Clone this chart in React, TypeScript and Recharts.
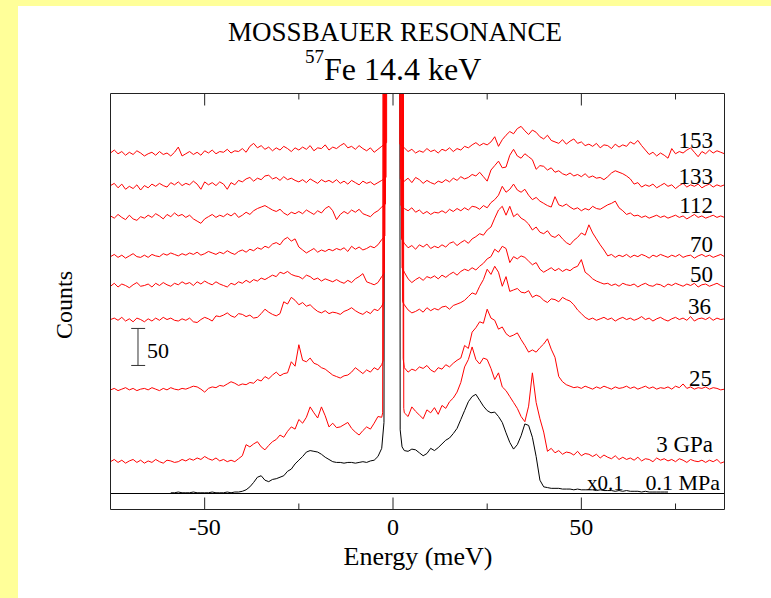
import React from 'react';
import { LineChart, Line, XAxis, YAxis, ReferenceLine } from 'recharts';

const SERIF = "'Liberation Serif', 'Times New Roman', Times, serif";

// Energy channels (meV) on either side of the elastic line
const ENERGY_LEFT = [
  -75, -74, -73, -72, -71, -70, -69, -68, -67, -66,
  -65, -64, -63, -62, -61, -60, -59, -58, -57, -56,
  -55, -54, -53, -52, -51, -50, -49, -48, -47, -46,
  -45, -44, -43, -42, -41, -40, -39, -38, -37, -36,
  -35, -34, -33, -32, -31, -30, -29, -28, -27, -26,
  -25, -24, -23, -22, -21, -20, -19, -18, -17, -16,
  -15, -14, -13, -12, -11, -10, -9, -8, -7, -6,
  -5, -4, -3,
];
const ENERGY_RIGHT = [
  3, 4, 5, 6, 7, 8, 9, 10, 11, 12,
  13, 14, 15, 16, 17, 18, 19, 20, 21, 22,
  23, 24, 25, 26, 27, 28, 29, 30, 31, 32,
  33, 34, 35, 36, 37, 38, 39, 40, 41, 42,
  43, 44, 45, 46, 47, 48, 49, 50, 51, 52,
  53, 54, 55, 56, 57, 58, 59, 60, 61, 62,
  63, 64, 65, 66, 67, 68, 69, 70, 71, 72,
  73, 74, 75, 76, 77, 78, 79, 80, 81, 82,
  83, 84, 85, 86, 87, 88,
];

// Pressure labels, top to bottom
const PRESSURE_LABELS = ['153', '133', '112', '70', '50', '36', '25', '3 GPa'];
// Vertical display offsets (counts) of each stacked spectrum
const OFFSETS = [458, 415, 373, 320, 281, 235, 140, 43];

// Counts above each spectrum's own baseline
const P153_LEFT = [
  2, 6, 1, 4, -1, 3, 0, 5, 2, -2,
  1, 3, -1, 4, 0, 2, -2, 3, 10, -2,
  1, 4, 0, 3, -1, 5, 2, 6, 1, 4,
  3, 7, 2, 5, 4, 8, 3, 11, 15, 9,
  12, 7, 10, 5, 9, 6, 11, 8, 4, 9,
  6, 10, 7, 12, 5, 9, 8, 13, 6, 10,
  8, 12, 15, 9, 11, 7, 12, 8, 5, 9,
  3, 7, 11,
];
const P153_RIGHT = [
  9, 4, 7, 2, 5, 3, 8, 4, 6, 2,
  7, 5, 9, 4, 8, 6, 11, 9, 13, 16,
  12, 15, 13, 17, 24, 11, 20, 26, 31, 28,
  35, 38, 32, 27, 33, 30, 24, 21, 26, 19,
  17, 15, 20, 14, 18, 21, 15, 17, 12, 14,
  11, 15, 9, 13, 12, 8, 14, 10, 13, 11,
  17, 14, 19, 12, 6, 0, 3, -2, 2, -1,
  -5, 8, 1, 4, 2, 6, 9, 3, -3, 4,
  1, 6, 2, 5, 3, 1,
];
const P133_LEFT = [
  1, 4, -2, 3, -4, 0, -3, 2, -5, 1,
  -2, 3, 0, 4, 1, -1, 5, 2, 6, 1,
  4, 2, 7, 3, -4, 6, 2, 5, 1, 6,
  3, -4, 5, 2, 8, 6, 10, 12, 7, 11,
  9, 14, 15, 10, 12, 8, 13, 9, 11, 8,
  6, 9, 5, 10, 7, 4, 9, 6, 8, 5,
  9, 4, 7, 3, 8, 5, 2, 7, 4, 6,
  2, 5, 8,
];
const P133_RIGHT = [
  7, 11, 5, 12, 9, 4, 8, 5, 3, 7,
  5, 9, 6, 11, 8, 13, 10, 12, 16, 14,
  19, 13, 7, 22, 28, 34, 25, 26, 42, 50,
  41, 38, 44, 40, 36, 23, 28, 27, 22, 25,
  19, 21, 17, 15, 18, 14, 16, 13, 17, 12,
  14, 11, 12, 9, 13, 18, 21, 19, 17, 14,
  10, 3, 5, -1, 2, 0, 3, -2, 1, 4,
  0, 2, -3, 1, 4, -1, 2, 0, 3, -2,
  1, 3, -1, 2, 0, 2,
];
const P112_LEFT = [
  2, -1, 4, 0, -3, 3, -2, -4, 1, -1,
  3, 0, 5, 2, -2, 4, 1, 6, 2, 4,
  0, 3, -2, -5, -8, -2, 1, 4, 0, 3,
  1, 5, 2, 6, 0, 3, 7, 4, 9, 12,
  14, 16, 13, 10, 8, 11, 6, 3, 7, 5,
  8, 5, 10, 7, 4, 9, 6, 12, 15, 9,
  -3, 4, 8, 5, 10, 7, 11, 5, 3, 1,
  6, 9, 14,
];
const P112_RIGHT = [
  12, 9, 13, 7, 10, 5, 8, 4, 7, 6,
  9, 6, 11, 8, 12, 9, 13, 10, 15, 14,
  11, 16, 13, 20, 24, 30, 42, 34, 38, 45,
  37, 34, 38, 30, 24, 27, 22, 19, 16, 14,
  28, 17, 15, 18, 14, 11, 13, 9, 12, 10,
  15, 12, 11, 14, 17, 19, 22, 13, 9, 4,
  6, 2, 3, 0, 2, -1, 1, 3, 0, 2,
  -1, 1, 3, 0, 2, -2, 1, 4, 0, 2,
  -1, 1, 3, 0, 2, 0,
];
const P70_LEFT = [
  0, 3, -1, 2, -2, 1, 4, 0, -1, 2,
  -1, 3, 1, 0, 4, 2, 5, 3, 1, 4,
  2, 5, 3, 6, 2, 4, 7, 5, 3, 6,
  4, 8, 5, 3, 7, 9, 6, 10, 8, 12,
  10, 14, 12, 17, 19, 16, 23, 26, 21, 24,
  13, 9, 5, 8, 11, 6, 9, 7, 10, 8,
  11, 9, 12, 7, 14, 10, 13, 9, 11, 14,
  12, 16, 23,
];
const P70_RIGHT = [
  18, 12, 15, 10, 16, 13, 17, 11, 14, 12,
  16, 13, 18, 20, 15, 19, 22, 18, 24, 27,
  31, 29, 36, 40, 52, 63, 68, 56, 68, 54,
  58, 52, 49, 44, 36, 40, 33, 31, 35, 28,
  26, 30, 24, 19, 16, 22, 26, 32, 29, 43,
  32, 24, 16, 9, 1, 3, -1, 2, 0, 3,
  -1, 2, 0, 3, 1, -2, 2, 0, 3, 1,
  -1, 2, 0, 3, -1, 1, 2, -2, 1, 3,
  0, 2, -1, 1, 3, 0,
];
const P50_LEFT = [
  -1, 3, -2, 2, 0, -3, 1, 4, -1, 0,
  2, -2, 3, 0, 4, 1, -1, 3, 1, 5,
  2, 4, 0, 5, 2, 6, 3, 1, 5, 2,
  0, -2, 3, 1, 5, 3, 7, 4, 8, 6,
  10, 8, 11, 14, 12, 18, 16, 19, 15, 13,
  12, 9, 14, 12, 8, 10, 6, 9, 7, 5,
  8, 5, 3, 7, 4, 9, 12, 16, 5, 3,
  1, 4, 12,
];
const P50_RIGHT = [
  18, 9, 4, 8, 11, 7, 12, 10, 13, 9,
  14, 11, 15, 18, 14, 19, 22, 20, 24, 21,
  26, 30, 36, 39, 49, 45, 53, 50, 31, 39,
  36, 40, 38, 33, 28, 31, 22, 18, 21, 24,
  20, 23, 19, 22, 20, 24, 26, 35, 18, 14,
  9, 6, 4, 2, 3, 0, 2, -1, 3, 1,
  0, 2, -2, 1, 3, 0, -1, 2, 1, -2,
  2, 0, 3, 1, -1, 2, 0, 3, -2, 1,
  2, -1, 1, 3, 0, -2,
];
const P36_LEFT = [
  0, 2, -1, 3, -2, 1, -3, 2, 0, -3,
  1, -2, 2, -1, 3, 0, 2, -1, -2, 1,
  -1, 2, -3, -4, 0, 3, 1, -2, 5, 4,
  6, 9, 5, 3, 8, 7, 4, 6, 2, 3,
  8, 14, 10, 7, 5, 8, 24, 21, 30, 26,
  20, 23, 18, 20, 15, 11, 9, 12, 8, 10,
  9, 7, 11, 13, 16, 12, 9, 7, 11, 8,
  14, 12, 18,
];
const P36_RIGHT = [
  20, 13, 9, 11, 14, 10, 16, 12, 15, 13,
  17, 18, 14, 19, 21, 23, 26, 31, 36, 34,
  45, 54, 68, 61, 72, 64, 45, 58, 38, 40,
  42, 37, 36, 39, 30, 33, 31, 26, 23, 28,
  27, 24, 30, 27, 25, 20, 13, 8, 3, 0,
  2, -1, 1, 3, 0, 2, -2, 1, 3, 0,
  2, -1, 1, 4, 0, 2, -2, 1, 3, 0,
  -2, 1, 3, 0, 2, -1, 4, -2, 1, 2,
  0, 3, -1, 2, 0, 1,
];
const P25_LEFT = [
  0, 2, -1, 1, 3, 0, 2, -1, 1, 2,
  0, 3, 1, -1, 2, 0, 3, 1, 0, 2,
  1, 3, 5, 4, 1, -3, 2, 4, 3, 6,
  5, 8, 11, 9, 6, 8, 7, 10, 9, 14,
  12, 18, 15, 20, 24, 19, 22, 23, 38, 32,
  61, 40, 38, 43, 36, 34, 30, 28, 24, 20,
  18, 16, 19, 20, 24, 30, 26, 22, 27, 24,
  30, 27, 34,
];
const P25_RIGHT = [
  30, 24, 28, 26, 31, 29, 33, 27, 24, 30,
  28, 34, 31, 36, 40, 43, 60, 56, 78, 84,
  92, 90, 109, 97, 94, 82, 85, 76, 72, 74,
  77, 68, 60, 51, 54, 51, 57, 62, 69, 55,
  44, 18, 11, 7, 5, 3, 4, 2, 5, 3,
  1, 4, 2, 5, 3, 1, 4, 2, 3, 5,
  2, 4, 1, 3, 5, 2, 4, 1, 3, 2,
  4, 1, 5, 3, 8, 2, 4, 1, 3, 2,
  4, 1, 3, 2, 0, 1,
];
const P3_LEFT = [
  0, 3, -1, 2, -2, 1, 3, -1, 2, -2,
  1, -1, 3, 0, -2, 2, 1, -1, 0, 3,
  1, 4, 2, 5, 3, 7, 4, 2, 5, 1,
  3, 0, 2, 0, 4, 8, 23, 20, 24, 27,
  20, 16, 22, 27, 30, 36, 33, 41, 47, 44,
  57, 52, 60, 74, 66, 59, 74, 62, 47, 52,
  46, 47, 50, 53, 45, 40, 36, 42, 47, 44,
  52, 61, 60,
];
const P3_RIGHT = [
  66, 61, 74, 68, 63, 58, 70, 66, 73, 64,
  76, 72, 81, 86, 94, 107, 128, 138, 155, 138,
  132, 140, 138, 126, 111, 120, 101, 96, 88, 80,
  72, 61, 54, 75, 120, 80, 58, 40, 14, 18,
  12, 15, 10, 13, 12, 9, 14, 8, 11, 10,
  7, 10, 5, 9, 6, 4, 8, 3, 6, 3,
  5, 2, 6, 1, 4, 3, 0, 5, 2, 4,
  1, 3, 0, 4, 2, -1, 3, 1, 0, 2,
  -1, 2, 0, 3, -2, 0,
];

// Ambient-pressure spectrum (shown x0.1), no counts recorded outside -59..73 meV
const AMBIENT_LEFT = [
  null, null, null, null, null, null, null, null, null, null,
  null, null, null, null, null, null, 1, 1, 2, 1,
  1, 1, 2, 1, 1, 1, 1, 2, 1, 1,
  1, 2, 1, 2, 2, 3, 5, 9, 15, 22,
  24, 18, 16, 19, 20, 22, 24, 30, 33, 40,
  45, 50, 56, 58, 57, 56, 53, 49, 46, 43,
  42, 42, 41, 42, 42, 41, 42, 43, 42, 44,
  45, 50, 61,
];
const AMBIENT_RIGHT = [
  58, 57, 60, 59, 55, 51, 54, 61, 58, 62,
  67, 72, 75, 81, 88, 100, 112, 124, 131, 134,
  126, 118, 112, 109, 110, 104, 96, 82, 69, 60,
  66, 78, 94, 92, 76, 50, 18, 9, 8, 7,
  7, 7, 6, 6, 6, 5, 6, 5, 5, 5,
  5, 4, 5, 4, 4, 4, 3, 4, 3, 4,
  3, 3, 3, 2, 3, 2, 2, 2, 2, 2,
  2, null, null, null, null, null, null, null, null, null,
  null, null, null, null, null, null,
];

// Elastic line flanks [energy, counts]; the peak runs far off scale
const ELASTIC_153: [number, number][] = [[-1.7, 16], [-1.2, 3000], [1.3, 3000], [1.8, 14]];
const ELASTIC_133: [number, number][] = [[-1.85, 12], [-1.35, 3000], [1.45, 3000], [1.95, 10]];
const ELASTIC_112: [number, number][] = [[-2.0, 18], [-1.5, 3000], [1.6, 3000], [2.1, 16]];
const ELASTIC_70: [number, number][] = [[-2.15, 28], [-1.65, 3000], [1.75, 3000], [2.25, 24]];
const ELASTIC_50: [number, number][] = [[-2.3, 17], [-1.8, 3000], [1.9, 3000], [2.4, 24]];
const ELASTIC_36: [number, number][] = [[-2.45, 24], [-1.95, 3000], [2.05, 3000], [2.55, 24]];
const ELASTIC_25: [number, number][] = [[-2.6, 40], [-2.1, 3000], [2.2, 3000], [2.7, 42]];
const ELASTIC_3: [number, number][] = [[-2.75, 66], [-2.25, 3000], [2.35, 3000], [2.85, 72]];
const ELASTIC_AMBIENT: [number, number][] = [[-2.4, 96], [-1.55, 3000], [1.4, 3000], [1.9, 86], [2.4, 63]];

const X_TICKS = [-50, 0, 50];
const X_MINOR_TICKS = [-25, 25, 75];

const X_DOMAIN: [number, number] = [-75, 88];
const Y_DOMAIN: [number, number] = [-21.6, 540.4];

type Row = { e: number; v: number };

function buildRows(
  left: (number | null)[],
  elastic: [number, number][],
  right: (number | null)[],
  offset: number,
): Row[] {
  const rows: Row[] = [];
  ENERGY_LEFT.forEach((e, i) => {
    const v = left[i];
    if (v !== null && v !== undefined) rows.push({ e, v: v + offset });
  });
  elastic.forEach(([e, v]) => rows.push({ e, v: v + offset }));
  ENERGY_RIGHT.forEach((e, i) => {
    const v = right[i];
    if (v !== null && v !== undefined) rows.push({ e, v: v + offset });
  });
  return rows;
}

const PRESSURE_SERIES = [
  buildRows(P153_LEFT, ELASTIC_153, P153_RIGHT, OFFSETS[0]),
  buildRows(P133_LEFT, ELASTIC_133, P133_RIGHT, OFFSETS[1]),
  buildRows(P112_LEFT, ELASTIC_112, P112_RIGHT, OFFSETS[2]),
  buildRows(P70_LEFT, ELASTIC_70, P70_RIGHT, OFFSETS[3]),
  buildRows(P50_LEFT, ELASTIC_50, P50_RIGHT, OFFSETS[4]),
  buildRows(P36_LEFT, ELASTIC_36, P36_RIGHT, OFFSETS[5]),
  buildRows(P25_LEFT, ELASTIC_25, P25_RIGHT, OFFSETS[6]),
  buildRows(P3_LEFT, ELASTIC_3, P3_RIGHT, OFFSETS[7]),
];
const AMBIENT_SERIES = buildRows(AMBIENT_LEFT, ELASTIC_AMBIENT, AMBIENT_RIGHT, 0);

// Label placement (page pixels): right edge and baseline
const LABEL_POS = [
  { x: 713, y: 148 },
  { x: 713, y: 184 },
  { x: 713, y: 213 },
  { x: 713, y: 252 },
  { x: 713, y: 282 },
  { x: 711, y: 314 },
  { x: 712, y: 386 },
  { x: 713, y: 452 },
];

const FRAME = '#222';
const MAJOR_LEN = 16.2;
const MINOR_LEN = 8.1;

export default function App() {
  const [yMin, yMax] = Y_DOMAIN;
  return (
    <div style={{ position: 'absolute', left: 0, top: 0, width: 771, height: 598, background: '#ffff99', overflow: 'hidden' }}>
      <div style={{ position: 'absolute', left: 18, top: 6, right: 0, bottom: 0, background: '#ffffff' }} />
      <div style={{ position: 'absolute', left: 0, top: 0 }}>
        <LineChart width={771} height={598} margin={{ top: 93.5, right: 46.5, bottom: 58.5, left: 110.5 }}>
          <XAxis
            type="number"
            dataKey="e"
            domain={X_DOMAIN}
            allowDataOverflow
            ticks={X_TICKS}
            tickLine={false}
            axisLine={{ stroke: FRAME, strokeWidth: 1 }}
            tick={{ fill: '#000', fontSize: 24, fontFamily: SERIF }}
            height={30}
          />
          <YAxis type="number" dataKey="v" hide domain={Y_DOMAIN} allowDataOverflow />

          {/* zero line of the ambient spectrum */}
          <ReferenceLine y={0} stroke="#000" strokeWidth={1} ifOverflow="visible" />

          <Line
            data={AMBIENT_SERIES}
            dataKey="v"
            type="linear"
            stroke="#000"
            strokeWidth={1}
            dot={false}
            activeDot={false}
            isAnimationActive={false}
          />
          {PRESSURE_SERIES.map((rows, i) => (
            <Line
              key={PRESSURE_LABELS[i]}
              data={rows}
              dataKey="v"
              type="linear"
              stroke="#ff0000"
              strokeWidth={1}
              dot={false}
              activeDot={false}
              isAnimationActive={false}
            />
          ))}

          {/* frame */}
          <ReferenceLine y={yMax} stroke={FRAME} strokeWidth={1} ifOverflow="visible" />
          <ReferenceLine x={X_DOMAIN[0]} stroke={FRAME} strokeWidth={1} ifOverflow="visible" />
          <ReferenceLine x={X_DOMAIN[1]} stroke={FRAME} strokeWidth={1} ifOverflow="visible" />

          {/* inward ticks on bottom and top edges */}
          {X_TICKS.map((t) => (
            <ReferenceLine key={`bm${t}`} segment={[{ x: t, y: yMin }, { x: t, y: yMin + MAJOR_LEN }]} stroke={FRAME} ifOverflow="visible" />
          ))}
          {X_MINOR_TICKS.map((t) => (
            <ReferenceLine key={`bn${t}`} segment={[{ x: t, y: yMin }, { x: t, y: yMin + MINOR_LEN }]} stroke={FRAME} ifOverflow="visible" />
          ))}
          {X_TICKS.map((t) => (
            <ReferenceLine key={`tm${t}`} segment={[{ x: t, y: yMax }, { x: t, y: yMax - MAJOR_LEN }]} stroke={FRAME} ifOverflow="visible" />
          ))}
          {X_MINOR_TICKS.map((t) => (
            <ReferenceLine key={`tn${t}`} segment={[{ x: t, y: yMax }, { x: t, y: yMax - MINOR_LEN }]} stroke={FRAME} ifOverflow="visible" />
          ))}

          {/* 50-count scale bar */}
          <ReferenceLine segment={[{ x: -67.7, y: 173 }, { x: -67.7, y: 223 }]} stroke="#333" ifOverflow="visible" />
          <ReferenceLine segment={[{ x: -69.5, y: 223 }, { x: -65.8, y: 223 }]} stroke="#333" ifOverflow="visible" />
          <ReferenceLine segment={[{ x: -69.5, y: 173 }, { x: -65.8, y: 173 }]} stroke="#333" ifOverflow="visible" />
        </LineChart>
      </div>

      <svg width={771} height={598} style={{ position: 'absolute', left: 0, top: 0, pointerEvents: 'none' }} fontFamily={SERIF} fill="#000">
        <text x={395} y={41} textAnchor="middle" fontSize={27}>MOSSBAUER RESONANCE</text>
        <text x={305} y={62.5} fontSize={19}>57</text>
        <text x={324} y={80} fontSize={32}>Fe 14.4 keV</text>
        <text x={418} y={565} textAnchor="middle" fontSize={26}>Energy (meV)</text>
        <text transform="translate(72,305) rotate(-90)" textAnchor="middle" fontSize={24}>Counts</text>
        <text x={147} y={358} fontSize={22}>50</text>
        {PRESSURE_LABELS.map((lab, i) => (
          <text key={lab} x={LABEL_POS[i].x} y={LABEL_POS[i].y} textAnchor="end" fontSize={23}>{lab}</text>
        ))}
        <text x={587} y={490} fontSize={21}>x0.1</text>
        <text x={720} y={490} textAnchor="end" fontSize={22}>0.1 MPa</text>
      </svg>
    </div>
  );
}
